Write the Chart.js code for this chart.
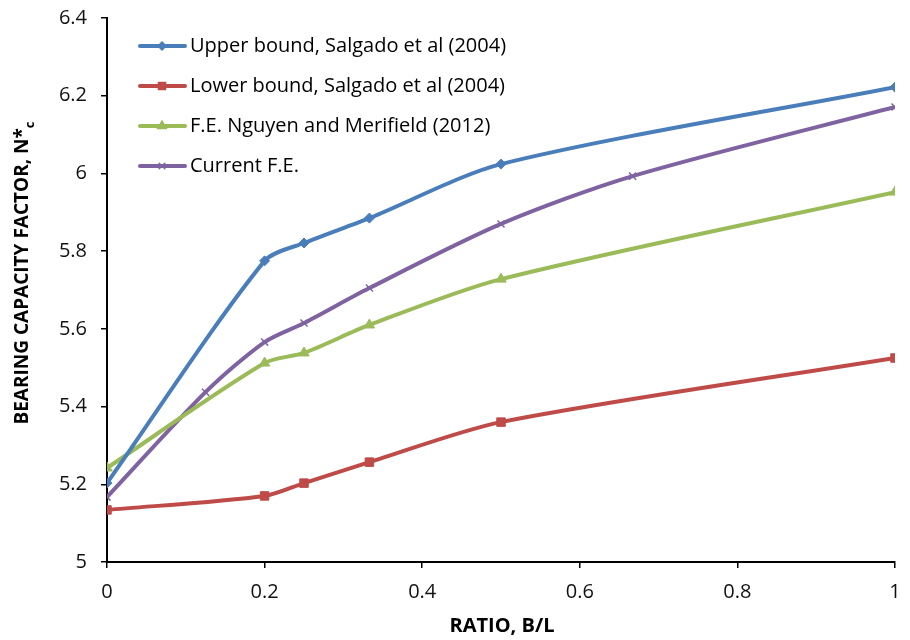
<!DOCTYPE html>
<html>
<head>
<meta charset="utf-8">
<script src="https://cdn.jsdelivr.net/npm/chart.js@4/dist/chart.umd.min.js"></script>
<style>
  body { margin: 0; background: #fff; }
  #wrap { width: 910px; height: 640px; }
</style>
</head>
<body>
<div id="wrap"><canvas id="myChart" width="910" height="640"></canvas></div>
<script>
'use strict';
// values
const upperX = [0, 0.2, 0.25, 0.333, 0.5, 1];
const upperY = [5.203, 5.775, 5.821, 5.885, 6.024, 6.222];
const lowerX = [0, 0.2, 0.25, 0.333, 0.5, 1];
const lowerY = [5.134, 5.170, 5.203, 5.257, 5.360, 5.525];
const nguyenX = [0, 0.2, 0.25, 0.333, 0.5, 1];
const nguyenY = [5.242, 5.512, 5.538, 5.610, 5.728, 5.952];
const currentX = [0, 0.125, 0.2, 0.25, 0.333, 0.5, 0.667, 1];
const currentY = [5.167, 5.437, 5.566, 5.615, 5.705, 5.870, 5.993, 6.171];

const seriesNames = ['Upper bound, Salgado et al (2004)', 'Lower bound, Salgado et al (2004)', 'F.E. Nguyen and Merifield (2012)', 'Current F.E.'];
const seriesColors = ['#4A7EBB', '#BE4B48', '#9BBB59', '#7F63A1'];
const pointStyles = ['rectRot', 'rect', 'triangle', 'crossRot'];
const pointSizes = [5, 6, 6, 5];

const xTitle = 'RATIO, B/L';
const yTitle = 'BEARING CAPACITY FACTOR, N*';
const yTitleSub = 'c';

const FONT = '"Open Sans", "Liberation Sans", sans-serif';

function toPoints(xs, ys) {
  return xs.map((x, i) => ({ x: x, y: ys[i] }));
}

const allX = [upperX, lowerX, nguyenX, currentX];
const allY = [upperY, lowerY, nguyenY, currentY];

const datasets = seriesNames.map((name, i) => ({
  label: name,
  data: toPoints(allX[i], allY[i]),
  borderColor: seriesColors[i],
  backgroundColor: seriesColors[i],
  pointStyle: pointStyles[i],
  pointRadius: pointSizes[i],
  pointBorderWidth: i === 3 ? 1.5 : 1,
  borderWidth: 4,
  showLine: true,
  tension: 0.28
}));

// legend + axis titles drawn by hand (line sample with marker, subscript c)
const decorations = {
  id: 'decorations',
  afterDraw(chart) {
    const ctx = chart.ctx;
    ctx.save();
    // legend
    seriesNames.forEach((name, i) => {
      const y = 46 + i * 40;
      ctx.strokeStyle = seriesColors[i];
      ctx.fillStyle = seriesColors[i];
      ctx.lineWidth = 4;
      ctx.lineCap = 'round';
      ctx.beginPath();
      ctx.moveTo(140, y);
      ctx.lineTo(185, y);
      ctx.stroke();
      ctx.lineWidth = 1.5;
      Chart.helpers.drawPoint(ctx, {
        pointStyle: pointStyles[i],
        radius: pointSizes[i] - 1,
        rotation: 0,
        borderWidth: 1.5
      }, 162, y);
      ctx.fillStyle = '#000';
      ctx.font = '20px ' + FONT;
      ctx.textAlign = 'left';
      ctx.textBaseline = 'middle';
      ctx.fillText(name, 190, y);
    });
    // x title
    ctx.fillStyle = '#000';
    ctx.font = 'bold 20px ' + FONT;
    ctx.textAlign = 'center';
    ctx.textBaseline = 'middle';
    ctx.fillText(xTitle, 502, 626);
    // y title with subscript
    ctx.translate(23, 273);
    ctx.rotate(-Math.PI / 2);
    ctx.font = 'bold 19px ' + FONT;
    const w = ctx.measureText(yTitle).width;
    ctx.font = 'bold 13px ' + FONT;
    const ws = ctx.measureText(yTitleSub).width;
    const start = -(w + ws) / 2;
    ctx.textAlign = 'left';
    ctx.font = 'bold 19px ' + FONT;
    ctx.fillText(yTitle, start, 0);
    ctx.font = 'bold 13px ' + FONT;
    ctx.fillText(yTitleSub, start + w, 7);
    ctx.restore();
  }
};

const ctx = document.getElementById('myChart').getContext('2d');
const chart = new Chart(ctx, {
  type: 'scatter',
  data: { datasets: datasets },
  options: {
    responsive: false,
    animation: false,
    layout: { padding: { left: 0, right: 15, top: 18, bottom: 0 } },
    plugins: {
      legend: { display: false },
      tooltip: { enabled: false }
    },
    scales: {
      x: {
        type: 'linear',
        min: 0,
        max: 1,
        ticks: {
          stepSize: 0.2,
          color: '#111',
          font: { family: FONT, size: 20 },
          padding: 12,
          callback: v => +v.toFixed(1)
        },
        grid: { drawOnChartArea: false, drawTicks: true, tickLength: 6, color: '#000', lineWidth: 1.5 },
        border: { display: true, color: '#000', width: 2 },
        afterFit: s => { s.height = 78; s.paddingLeft = 0; s.paddingRight = 0; }
      },
      y: {
        type: 'linear',
        min: 5,
        max: 6.4,
        ticks: {
          stepSize: 0.2,
          color: '#111',
          font: { family: FONT, size: 20 },
          padding: 14,
          callback: v => +v.toFixed(1)
        },
        grid: { drawOnChartArea: false, drawTicks: true, tickLength: 6, color: '#000', lineWidth: 1.5 },
        border: { display: true, color: '#000', width: 2 },
        afterFit: s => { s.width = 107; s.paddingTop = 0; s.paddingBottom = 0; }
      }
    }
  },
  plugins: [decorations]
});
</script>
</body>
</html>
